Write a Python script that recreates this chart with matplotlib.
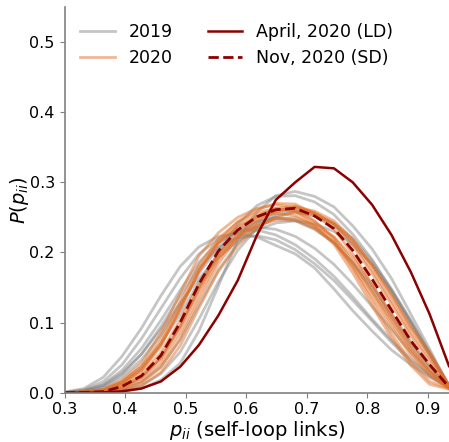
import matplotlib
matplotlib.use("Agg")
import matplotlib.pyplot as plt

# self-loop probability grid
p_ii = [0.300, 0.332, 0.364, 0.395, 0.427, 0.459, 0.491, 0.522, 0.554, 0.586, 0.618,
        0.649, 0.681, 0.713, 0.745, 0.776, 0.808, 0.840, 0.872, 0.903, 0.935]

# 2019 weekly distributions
y2019_a = [0, 0, 0.0003, 0.002, 0.006, 0.018, 0.042, 0.088, 0.152, 0.218, 0.258, 0.281, 0.287, 0.280, 0.265, 0.238, 0.205, 0.163, 0.112, 0.062, 0.010]
y2019_b = [0, 0.0005, 0.002, 0.008, 0.022, 0.050, 0.095, 0.150, 0.200, 0.240, 0.267, 0.280, 0.281, 0.272, 0.254, 0.226, 0.190, 0.146, 0.100, 0.055, 0.010]
y2019_c = [0.001, 0.006, 0.022, 0.052, 0.092, 0.138, 0.180, 0.208, 0.223, 0.227, 0.222, 0.210, 0.198, 0.178, 0.148, 0.117, 0.088, 0.061, 0.040, 0.022, 0.008]
y2019_d = [0.0005, 0.004, 0.016, 0.040, 0.077, 0.120, 0.163, 0.198, 0.219, 0.230, 0.232, 0.225, 0.211, 0.191, 0.166, 0.137, 0.105, 0.075, 0.048, 0.026, 0.008]
y2019_e = [0, 0.003, 0.012, 0.032, 0.063, 0.103, 0.146, 0.186, 0.214, 0.230, 0.236, 0.233, 0.223, 0.206, 0.183, 0.155, 0.123, 0.090, 0.058, 0.030, 0.008]
y2019_f = [0, 0.002, 0.008, 0.022, 0.047, 0.082, 0.125, 0.170, 0.207, 0.232, 0.245, 0.249, 0.245, 0.233, 0.213, 0.186, 0.152, 0.113, 0.073, 0.038, 0.008]
y2019_g = [0, 0.0003, 0.001, 0.005, 0.015, 0.037, 0.075, 0.125, 0.175, 0.213, 0.240, 0.255, 0.260, 0.255, 0.242, 0.220, 0.188, 0.148, 0.103, 0.058, 0.010]
y2019_h = [0, 0.001, 0.005, 0.016, 0.037, 0.070, 0.112, 0.158, 0.198, 0.226, 0.243, 0.250, 0.247, 0.235, 0.214, 0.185, 0.148, 0.108, 0.068, 0.034, 0.008]
y2019_i = [0.0003, 0.003, 0.011, 0.028, 0.055, 0.090, 0.128, 0.163, 0.193, 0.216, 0.232, 0.242, 0.245, 0.241, 0.230, 0.211, 0.183, 0.146, 0.102, 0.056, 0.010]
y2019_j = [0, 0.002, 0.009, 0.026, 0.055, 0.094, 0.138, 0.179, 0.207, 0.221, 0.224, 0.218, 0.204, 0.184, 0.160, 0.132, 0.102, 0.072, 0.045, 0.024, 0.007]
y2019_k = [0, 0, 0.0005, 0.003, 0.010, 0.027, 0.058, 0.105, 0.158, 0.203, 0.235, 0.252, 0.257, 0.252, 0.238, 0.215, 0.183, 0.143, 0.098, 0.053, 0.009]

# 2020 weekly distributions
y2020_a = [0, 0.001, 0.005, 0.018, 0.042, 0.085, 0.142, 0.195, 0.228, 0.250, 0.263, 0.268, 0.264, 0.245, 0.219, 0.178, 0.131, 0.084, 0.044, 0.016, 0.006]
y2020_b = [0, 0.001, 0.003, 0.014, 0.034, 0.070, 0.122, 0.175, 0.213, 0.236, 0.250, 0.256, 0.253, 0.237, 0.215, 0.179, 0.137, 0.093, 0.053, 0.024, 0.006]
y2020_c = [0, 0.001, 0.003, 0.013, 0.032, 0.066, 0.119, 0.173, 0.216, 0.244, 0.261, 0.270, 0.269, 0.255, 0.233, 0.198, 0.154, 0.108, 0.064, 0.031, 0.007]
y2020_d = [0, 0.0005, 0.0014, 0.0086, 0.023, 0.050, 0.095, 0.147, 0.192, 0.220, 0.238, 0.248, 0.250, 0.239, 0.222, 0.193, 0.154, 0.112, 0.070, 0.038, 0.008]
y2020_e = [0, 0.0003, 0.0003, 0.0057, 0.017, 0.042, 0.085, 0.140, 0.190, 0.225, 0.247, 0.259, 0.264, 0.256, 0.241, 0.214, 0.175, 0.131, 0.086, 0.050, 0.009]
y2020_f = [0, 0, 0.0003, 0.002, 0.010, 0.029, 0.067, 0.121, 0.173, 0.210, 0.235, 0.250, 0.258, 0.253, 0.241, 0.218, 0.182, 0.140, 0.094, 0.058, 0.010]
y2020_g = [0, 0.001, 0.004, 0.016, 0.037, 0.076, 0.130, 0.182, 0.220, 0.243, 0.257, 0.263, 0.259, 0.239, 0.212, 0.171, 0.124, 0.078, 0.039, 0.012, 0.005]
y2020_h = [0, 0.0004, 0.001, 0.007, 0.021, 0.048, 0.093, 0.149, 0.198, 0.231, 0.251, 0.263, 0.266, 0.257, 0.240, 0.210, 0.170, 0.126, 0.081, 0.045, 0.009]
y2020_i = [0, 0.001, 0.002, 0.011, 0.027, 0.057, 0.104, 0.155, 0.197, 0.223, 0.239, 0.246, 0.246, 0.234, 0.215, 0.184, 0.144, 0.103, 0.062, 0.031, 0.007]
y2020_j = [0, 0.0001, 0.0003, 0.004, 0.014, 0.036, 0.077, 0.132, 0.184, 0.221, 0.244, 0.258, 0.265, 0.259, 0.245, 0.219, 0.181, 0.138, 0.092, 0.055, 0.011]
y2020_k = [0, 0.001, 0.003, 0.013, 0.032, 0.068, 0.119, 0.174, 0.213, 0.238, 0.253, 0.261, 0.259, 0.244, 0.222, 0.187, 0.144, 0.099, 0.058, 0.027, 0.007]

# highlighted periods
april_2020_ld = [0, 0, 0.0005, 0.002, 0.006, 0.016, 0.037, 0.068, 0.110, 0.160, 0.225, 0.275, 0.300, 0.322, 0.320, 0.300, 0.268, 0.225, 0.172, 0.112, 0.038]
nov_2020_sd = [0, 0.0005, 0.0015, 0.009, 0.024, 0.053, 0.100, 0.155, 0.202, 0.232, 0.251, 0.261, 0.263, 0.252, 0.234, 0.203, 0.162, 0.118, 0.074, 0.040, 0.008]

series_2019 = [y2019_a, y2019_b, y2019_c, y2019_d, y2019_e, y2019_f, y2019_g,
               y2019_h, y2019_i, y2019_j, y2019_k]
series_2020 = [y2020_a, y2020_b, y2020_c, y2020_d, y2020_e, y2020_f, y2020_g,
               y2020_h, y2020_i, y2020_j, y2020_k]

fig = plt.figure(figsize=(4.49, 4.42), dpi=100)
ax = fig.add_axes([0.1437, 0.1115, 0.8563, 0.8726])

for i, ys in enumerate(series_2019):
    ax.plot(p_ii, ys, color='#808080', alpha=0.45, lw=2,
            label='2019' if i == 0 else None)
for i, ys in enumerate(series_2020):
    ax.plot(p_ii, ys, color='#e17129', alpha=0.5, lw=2,
            label='2020' if i == 0 else None)
ax.plot(p_ii, april_2020_ld, color='#8b0000', lw=1.8, label='April, 2020 (LD)')
ax.plot(p_ii, nov_2020_sd, color='#8b0000', lw=2, ls='--', label='Nov, 2020 (SD)')

ax.set_xlim(0.3, 0.935)
ax.set_ylim(0, 0.55)
ax.set_xticks([0.3, 0.4, 0.5, 0.6, 0.7, 0.8, 0.9])
ax.set_yticks([0.0, 0.1, 0.2, 0.3, 0.4, 0.5])
ax.tick_params(labelsize=11.5, color='#808080')
for s in ['top', 'right']:
    ax.spines[s].set_visible(False)
for s in ['left', 'bottom']:
    ax.spines[s].set_color('#808080')
    ax.spines[s].set_linewidth(1.2)

ax.set_xlabel(r'$p_{ii}$ (self-loop links)', fontsize=14, labelpad=1)
ax.set_ylabel(r'$P(p_{ii})$', fontsize=14, labelpad=-1)

ax.legend(ncol=2, frameon=False, fontsize=12.5, loc='upper left',
          handlelength=2.0, columnspacing=2.0)

fig.savefig('out.png', dpi=100)
